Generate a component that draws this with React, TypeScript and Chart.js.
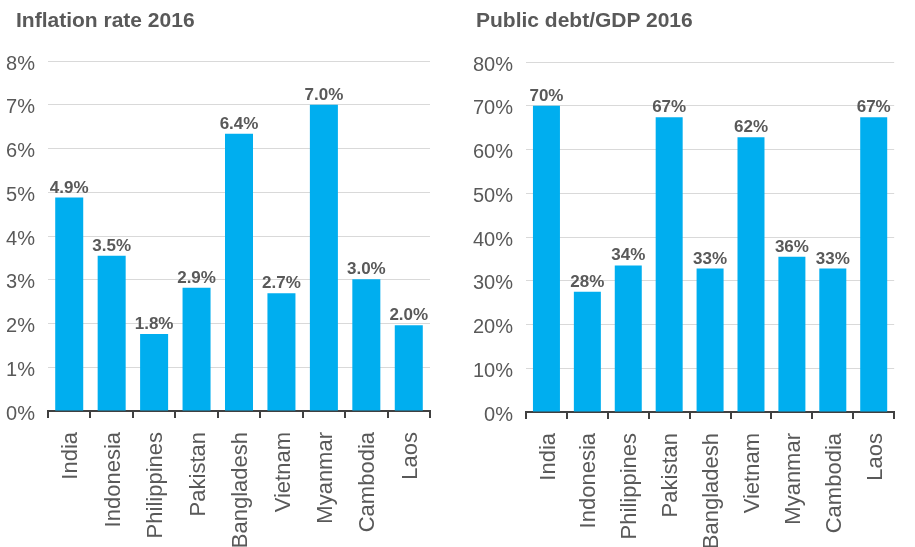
import React, { useEffect, useRef } from "react";
import { Chart, registerables } from "chart.js";

Chart.register(...registerables);

const categories = ["India", "Indonesia", "Philippines", "Pakistan", "Bangladesh", "Vietnam", "Myanmar", "Cambodia", "Laos"];

const inflationValues = [4.88, 3.55, 1.76, 2.82, 6.34, 2.69, 7.0, 3.01, 1.96];
const inflationLabels = ["4.9%", "3.5%", "1.8%", "2.9%", "6.4%", "2.7%", "7.0%", "3.0%", "2.0%"];
const inflationMax = 8;
const inflationStep = 1;

const debtValues = [70.0, 27.5, 33.5, 67.4, 32.8, 62.8, 35.5, 32.8, 67.4];
const debtLabels = ["70%", "28%", "34%", "67%", "33%", "62%", "36%", "33%", "67%"];
const debtMax = 80;
const debtStep = 10;

const FONT = "'Liberation Sans', Arial, Helvetica, sans-serif";
const TEXT = "#595959";
const BAR = "#00AEEF";

type PanelProps = {
  title: string;
  values: number[];
  labels: string[];
  max: number;
  step: number;
  left: number;
  width: number;
  plotLeft: number;
  plotRight: number;
  plotTop: number;
  plotBottom: number;
  titleLeft: number;
};

const HEIGHT = 547;

function Panel(p: PanelProps) {
  const ref = useRef<HTMLCanvasElement | null>(null);
  useEffect(() => {
    if (!ref.current) return;
    const labelPlugin = {
      id: "valueLabels",
      afterDatasetsDraw(chart: any) {
        const ctx = chart.ctx;
        const meta = chart.getDatasetMeta(0);
        ctx.save();
        ctx.font = `bold 17px ${FONT}`;
        ctx.fillStyle = TEXT;
        ctx.textAlign = "center";
        ctx.textBaseline = "alphabetic";
        meta.data.forEach((el: any, i: number) => {
          ctx.fillText(p.labels[i], el.x, el.y - 5);
        });
        ctx.restore();
      },
    };
    const chart = new Chart(ref.current, {
      type: "bar",
      data: {
        labels: categories,
        datasets: [
          {
            data: p.values,
            backgroundColor: BAR,
            borderWidth: 0,
            categoryPercentage: 1,
            barPercentage: 0.66,
          },
        ],
      },
      options: {
        responsive: false,
        animation: false,
        layout: {
          padding: { top: p.plotTop, right: p.width - p.plotRight, left: 0, bottom: 0 },
        },
        plugins: {
          legend: { display: false },
          tooltip: { enabled: false },
          title: { display: false },
        },
        scales: {
          x: {
            grid: {
              display: true,
              drawOnChartArea: false,
              drawTicks: true,
              tickLength: 7,
              color: "#404040",
              lineWidth: 2,
              offset: true,
            },
            border: { display: true, color: "#404040", width: 2 },
            ticks: {
              color: TEXT,
              font: { family: FONT, size: 22 },
              minRotation: 90,
              maxRotation: 90,
              autoSkip: false,
              padding: 14,
              labelOffset: 2,
            },
            afterFit: (axis: any) => {
              axis.height = HEIGHT - p.plotBottom;
            },
          },
          y: {
            min: 0,
            max: p.max,
            grid: { color: "#d9d9d9", lineWidth: 1, drawTicks: false },
            border: { display: false },
            ticks: {
              stepSize: p.step,
              color: TEXT,
              font: { family: FONT, size: 20 },
              padding: 13,
              labelOffset: 3,
              callback: (v: any) => `${v}%`,
            },
            afterFit: (axis: any) => {
              axis.width = p.plotLeft;
            },
          },
        },
      },
      plugins: [labelPlugin],
    });
    return () => chart.destroy();
  }, []);
  return (
    <div style={{ position: "absolute", left: p.left, top: 0, width: p.width, height: HEIGHT }}>
      <div
        style={{
          position: "absolute",
          left: p.titleLeft,
          top: 9,
          font: `bold 21px ${FONT}`,
          lineHeight: "21px",
          color: TEXT,
          whiteSpace: "nowrap",
        }}
      >
        {p.title}
      </div>
      <canvas ref={ref} width={p.width} height={HEIGHT} style={{ width: p.width, height: HEIGHT, display: "block" }} />
    </div>
  );
}

export default function App() {
  return (
    <div style={{ position: "absolute", left: 0, top: 0, width: 915, height: HEIGHT, background: "#fff", overflow: "hidden" }}>
      <Panel
        title="Inflation rate 2016"
        values={inflationValues}
        labels={inflationLabels}
        max={inflationMax}
        step={inflationStep}
        left={0}
        width={458}
        plotLeft={48}
        plotRight={430}
        plotTop={61}
        plotBottom={411}
        titleLeft={16}
      />
      <Panel
        title="Public debt/GDP 2016"
        values={debtValues}
        labels={debtLabels}
        max={debtMax}
        step={debtStep}
        left={458}
        width={457}
        plotLeft={68}
        plotRight={441}
        plotTop={62}
        plotBottom={412}
        titleLeft={18}
      />
    </div>
  );
}
